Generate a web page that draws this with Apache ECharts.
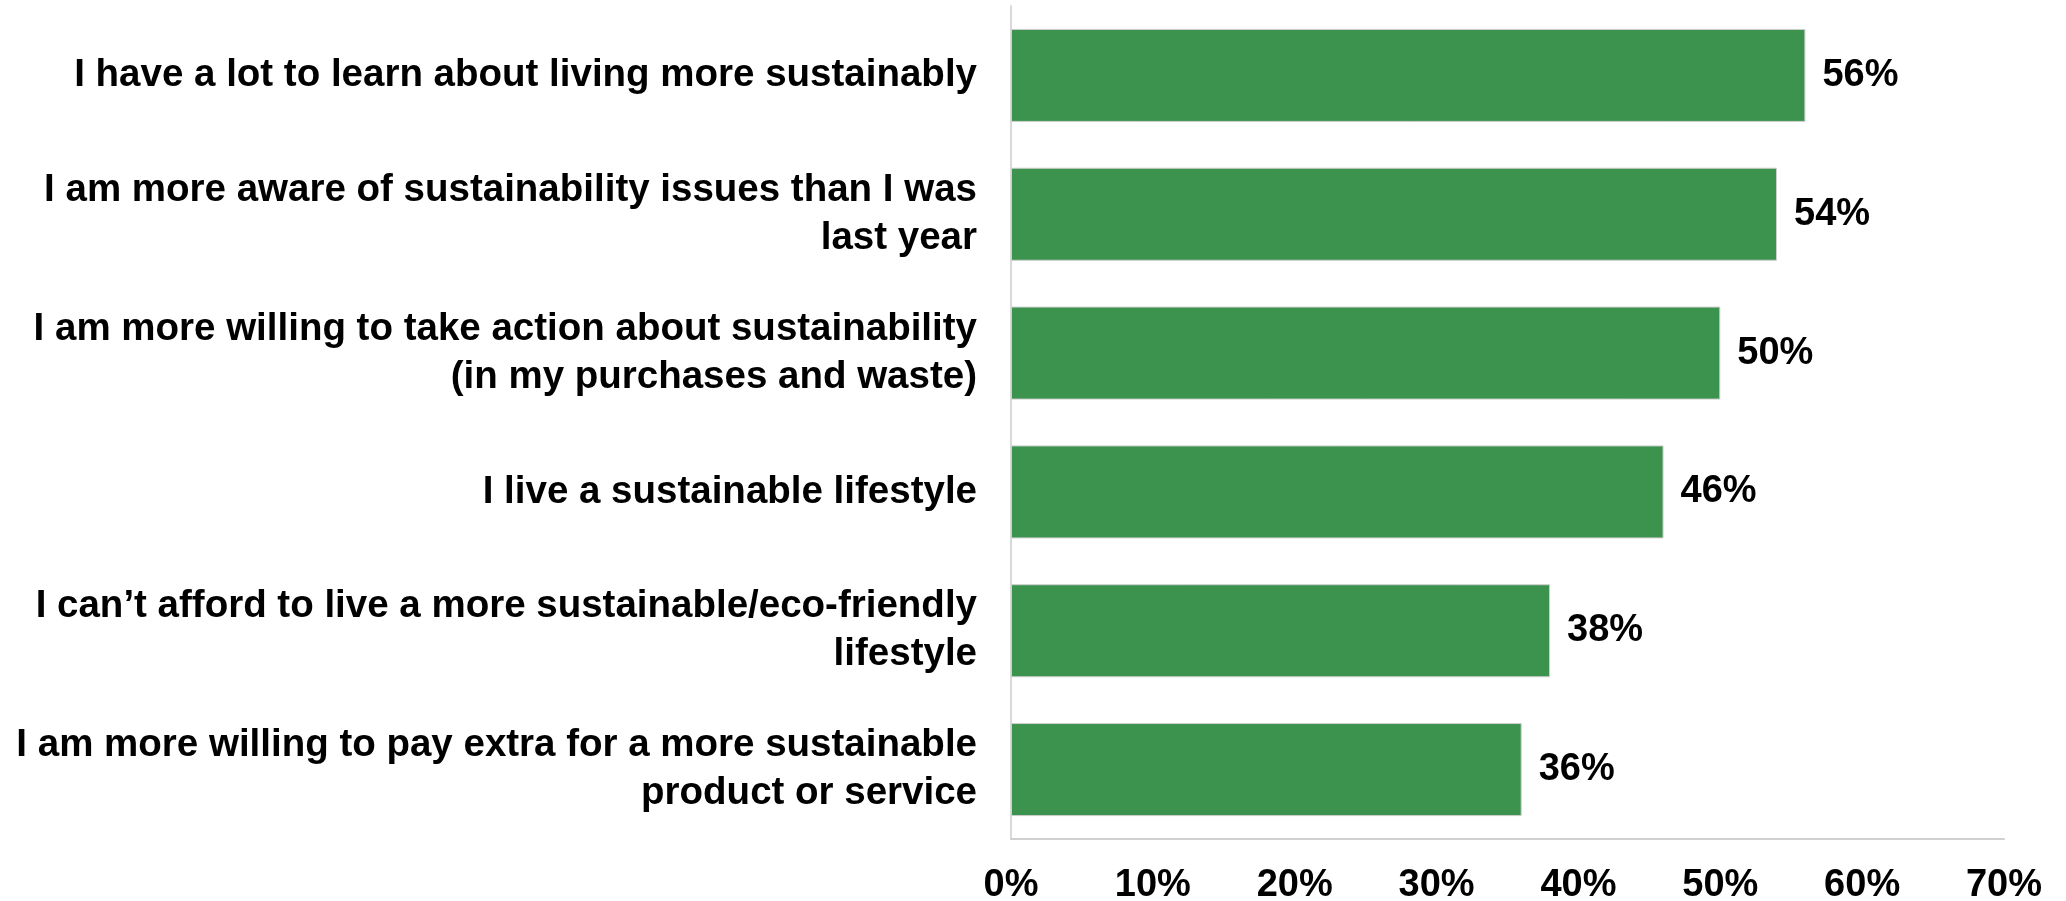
<!DOCTYPE html>
<html>
<head>
<meta charset="utf-8">
<script src="https://cdn.jsdelivr.net/npm/echarts@6/dist/echarts.min.js"></script>
<style>
html,body{margin:0;padding:0;background:#fff;}
#chart{width:2066px;height:901px;}
</style>
</head>
<body>
<div id="chart"></div>
<script>
const categories = [
  "I have a lot to learn about living more sustainably",
  "I am more aware of sustainability issues than I was\nlast year",
  "I am more willing to take action about sustainability\n(in my purchases and waste)",
  "I live a sustainable lifestyle",
  "I can\u2019t afford to live a more sustainable/eco-friendly\nlifestyle",
  "I am more willing to pay extra for a more sustainable\nproduct or service"
];
const values = [56, 54, 50, 46, 38, 36];
const tickMin = 0, tickMax = 70, tickStep = 10;

const chart = echarts.init(document.getElementById('chart'), null, {renderer: 'canvas'});
const FONT = '"Liberation Sans", Arial, sans-serif';
chart.setOption({
  animation: false,
  backgroundColor: '#ffffff',
  grid: {left: 1011, right: 62, top: 6, bottom: 62, containLabel: false, outerBoundsMode: 'none'},
  xAxis: {
    type: 'value', min: tickMin, max: tickMax, interval: tickStep,
    axisLine: {show: true, lineStyle: {color: '#d0d0d0', width: 2}},
    axisTick: {show: false},
    splitLine: {show: false},
    axisLabel: {
      formatter: '{value}%', color: '#000', fontFamily: FONT, fontWeight: 'bold',
      fontSize: 38, margin: 28
    }
  },
  yAxis: {
    type: 'category', data: categories, inverse: true,
    axisLine: {show: true, lineStyle: {color: '#d9d9d9', width: 2}},
    axisTick: {show: false},
    axisLabel: {
      color: '#000', fontFamily: FONT, fontWeight: 'bold', fontSize: 38.5,
      lineHeight: 48, margin: 34, align: 'right'
    }
  },
  series: [{
    type: 'bar', data: values, barCategoryGap: '33%',
    itemStyle: {color: '#3b934e', borderColor: '#cfcfcf', borderWidth: 1},
    label: {
      show: true, position: 'right', distance: 17, formatter: '{c}%',
      color: '#000', fontFamily: FONT, fontWeight: 'bold', fontSize: 38
    }
  }]
});
</script>
</body>
</html>
